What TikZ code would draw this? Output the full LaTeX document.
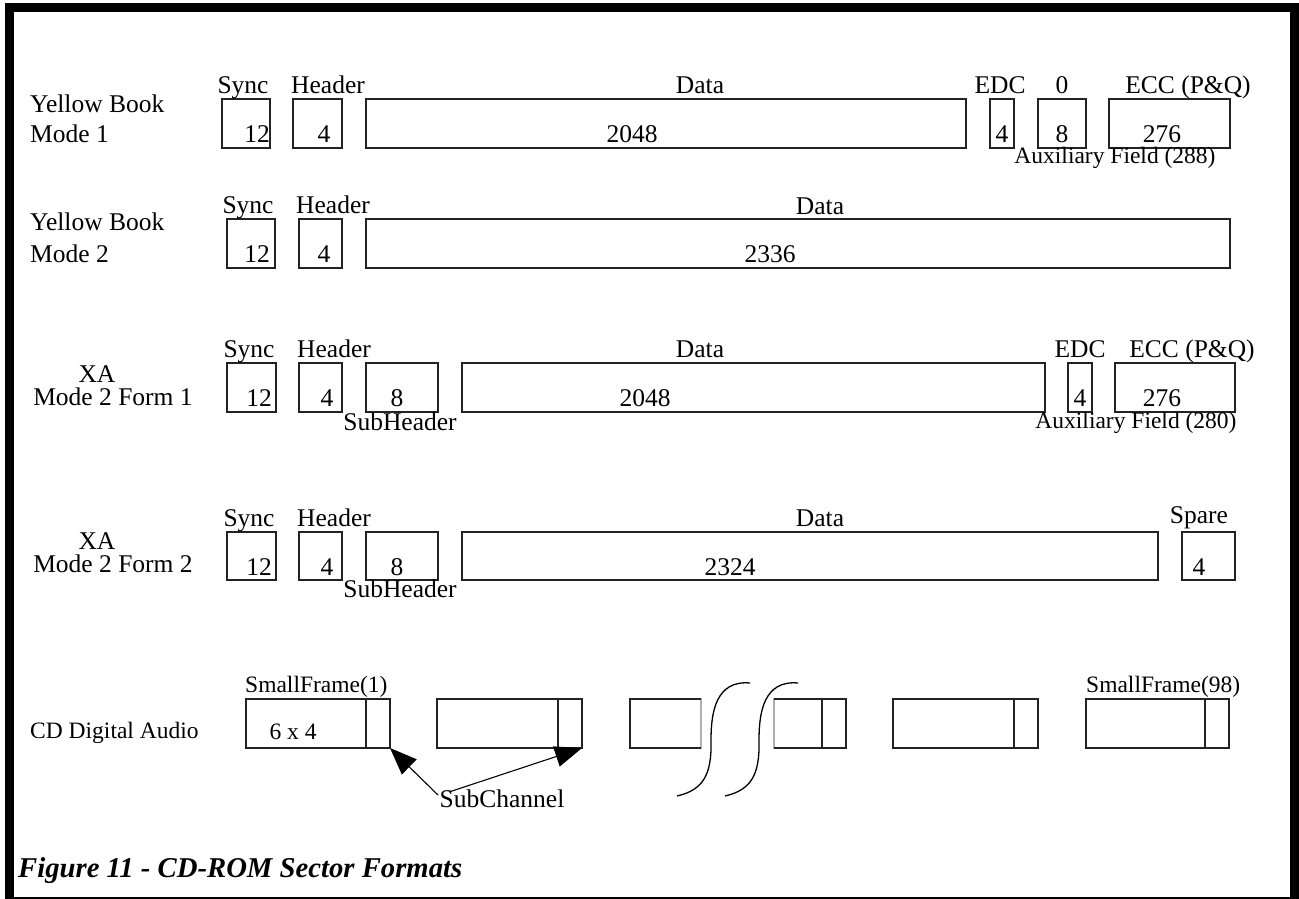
\documentclass[tikz,border=0pt]{standalone}
\usepackage{fontspec}
\setmainfont{Liberation Serif}
\usepackage{tikz}
\usetikzlibrary{arrows.meta}
\definecolor{mydark}{RGB}{35,35,35}
\definecolor{mylight}{RGB}{175,175,175}
\tikzset{
  fieldbox/.style={rectangle, draw=mydark, line width=1.3pt, inner sep=0pt,
    outer sep=0pt, anchor=north west, minimum height=49pt},
  fieldline/.style={draw=mydark, line width=1.3pt},
  bigtxt/.style={font=\fontsize{25.5}{29}\selectfont, inner sep=0pt, anchor=base},
  smalltxt/.style={font=\fontsize{23.5}{27}\selectfont, inner sep=0pt, anchor=base},
  titletxt/.style={font=\fontsize{28.7}{32}\selectfont\bfseries\itshape,
    inner sep=0pt, anchor=base west},
  subarrow/.style={-{Triangle[length=27pt, width=21pt]}, line width=1.1pt, color=black},
  breakline/.style={line width=1.3pt, color=black},
  pageframe/.style={line width=9pt}
}

\begin{document}
\begin{tikzpicture}[x=1pt, y=-1pt]
  \useasboundingbox (0,0) rectangle (1299,899);
  \draw[pageframe] (9.5,7.5) rectangle (1294.5,901);

  % Yellow Book Mode 1
  \node[bigtxt, anchor=base west] (yb1a) at (30,113) {Yellow Book};
  \node[bigtxt, anchor=base west] (yb1b) at (30,142) {Mode 1};
  \foreach \n/\a/\b in {sync/222/270, head/293/342, data/366/966, edc/990/1014,
                        zero/1038/1086, ecc/1109/1230}
    \node[fieldbox, minimum width={(\b-\a)*1pt}] (r1\n) at (\a,99) {};
  \node[bigtxt] (r1l1) at (243,94) {Sync};
  \node[bigtxt] (r1l2) at (328,94) {Header};
  \node[bigtxt] (r1l3) at (700,93) {Data};
  \node[bigtxt] (r1l4) at (1000,93) {EDC};
  \node[bigtxt] (r1l5) at (1062,93) {0};
  \node[bigtxt] (r1l6) at (1188,93) {ECC (P\&Q)};
  \node[bigtxt] (r1v1) at (257,142) {12};
  \node[bigtxt] (r1v2) at (324,142) {4};
  \node[bigtxt] (r1v3) at (632,142) {2048};
  \node[bigtxt] (r1v4) at (1002,142) {4};
  \node[bigtxt] (r1v5) at (1062,142) {8};
  \node[bigtxt] (r1v6) at (1162,142) {276};
  \node[smalltxt] (r1aux) at (1115,163) {Auxiliary Field (288)};

  % Yellow Book Mode 2
  \node[bigtxt, anchor=base west] (yb2a) at (30,230) {Yellow Book};
  \node[bigtxt, anchor=base west] (yb2b) at (30,262) {Mode 2};
  \foreach \n/\a/\b in {sync/227/275, head/299/342, data/366/1230}
    \node[fieldbox, minimum width={(\b-\a)*1pt}] (r2\n) at (\a,219) {};
  \node[bigtxt] (r2l1) at (248,213) {Sync};
  \node[bigtxt] (r2l2) at (333,213) {Header};
  \node[bigtxt] (r2l3) at (820,214) {Data};
  \node[bigtxt] (r2v1) at (257,262) {12};
  \node[bigtxt] (r2v2) at (324,262) {4};
  \node[bigtxt] (r2v3) at (770,262) {2336};

  % XA Mode 2 Form 1
  \node[bigtxt] (xa1a) at (97,382) {XA};
  \node[bigtxt] (xa1b) at (113,405) {Mode 2 Form 1};
  \foreach \n/\a/\b in {sync/227/276, head/299/342, sub/366/438, data/462/1045,
                        edc/1068/1092, ecc/1115/1235}
    \node[fieldbox, minimum width={(\b-\a)*1pt}] (r3\n) at (\a,363) {};
  \node[bigtxt] (r3l1) at (249,357) {Sync};
  \node[bigtxt] (r3l2) at (334,357) {Header};
  \node[bigtxt] (r3l3) at (700,357) {Data};
  \node[bigtxt] (r3l4) at (1080,357) {EDC};
  \node[bigtxt] (r3l5) at (1192,357) {ECC (P\&Q)};
  \node[bigtxt] (r3v1) at (259,406) {12};
  \node[bigtxt] (r3v2) at (327,406) {4};
  \node[bigtxt] (r3v3) at (397,406) {8};
  \node[bigtxt] (r3v4) at (645,406) {2048};
  \node[bigtxt] (r3v5) at (1080,406) {4};
  \node[bigtxt] (r3v6) at (1162,406) {276};
  \node[bigtxt] (r3sub) at (400,430) {SubHeader};
  \node[smalltxt] (r3aux) at (1136,428) {Auxiliary Field (280)};

  % XA Mode 2 Form 2
  \node[bigtxt] (xa2a) at (97,549) {XA};
  \node[bigtxt] (xa2b) at (113,572) {Mode 2 Form 2};
  \foreach \n/\a/\b in {sync/227/276, head/299/342, sub/366/438, data/462/1158,
                        spare/1182/1235}
    \node[fieldbox, minimum height=48pt, minimum width={(\b-\a)*1pt}] (r4\n) at (\a,532) {};
  \node[bigtxt] (r4l1) at (249,526) {Sync};
  \node[bigtxt] (r4l2) at (334,526) {Header};
  \node[bigtxt] (r4l3) at (820,526) {Data};
  \node[bigtxt] (r4l4) at (1199,523) {Spare};
  \node[bigtxt] (r4v1) at (259,575) {12};
  \node[bigtxt] (r4v2) at (327,575) {4};
  \node[bigtxt] (r4v3) at (397,575) {8};
  \node[bigtxt] (r4v4) at (730,575) {2324};
  \node[bigtxt] (r4v5) at (1199,575) {4};
  \node[bigtxt] (r4sub) at (400,597) {SubHeader};

  % CD Digital Audio
  \node[smalltxt, anchor=base west] (cda) at (30,738) {CD Digital Audio};
  \foreach \n/\a/\b in {1/246/390, 2/437/582, 5/893/1038, 6/1086/1229} {
    \node[fieldbox, minimum width={(\b-\a)*1pt}] (f\n) at (\a,699) {};
    \draw[fieldline] ([xshift=-24pt]f\n.north east) -- ([xshift=-24pt]f\n.south east);
  }
  \node[fieldbox, draw=mylight, minimum width=71pt] (f3) at (630,699) {};
  \draw[fieldline] (f3.north east) -- (f3.north west) -- (f3.south west) -- (f3.south east);
  \node[fieldbox, draw=mylight, minimum width=72pt] (f4) at (774,699) {};
  \draw[fieldline] (f4.north west) -- (f4.north east) -- (f4.south east) -- (f4.south west);
  \draw[fieldline] ([xshift=-24pt]f4.north east) -- ([xshift=-24pt]f4.south east);
  \node[smalltxt, anchor=base west] (sf1) at (245,692) {SmallFrame(1)};
  \node[smalltxt, anchor=base west] (sf98) at (1086,692) {SmallFrame(98)};
  \node[smalltxt] (f1v) at (293,739) {6 x 4};
  % break marks
  \draw[breakline] (750,683) .. controls (716,680) and (711,712) .. (711,740)
    .. controls (712,775) and (703,790) .. (677,796);
  \draw[breakline] (798,683) .. controls (764,680) and (759,712) .. (759,740)
    .. controls (760,775) and (751,790) .. (725,796);
  % subchannel pointers
  \node[bigtxt] (subch) at (502,807) {SubChannel};
  \coordinate (scA) at (438,795);
  \coordinate (scB) at (449,792);
  \draw[subarrow] (scA) -- (f1.south east);
  \draw[subarrow] (scB) -- (f2.south east);

  \node[titletxt] (caption) at (18,877) {Figure 11 - CD-ROM Sector Formats};
\end{tikzpicture}
\end{document}
